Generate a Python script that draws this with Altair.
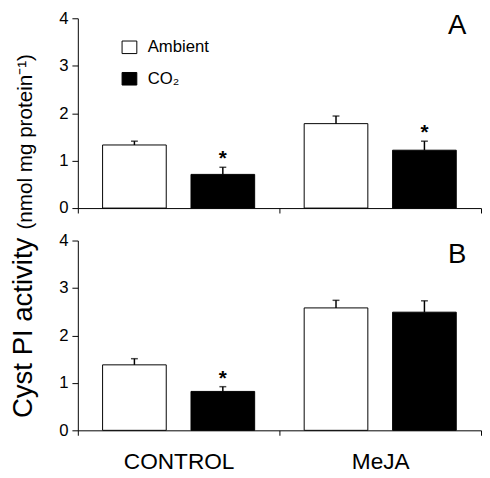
import altair as alt
import pandas as pd

groups = ["CONTROL", "MeJA"]
treatments = ["Ambient", "CO₂"]

# order: CONTROL-Ambient, CONTROL-CO2, MeJA-Ambient, MeJA-CO2
a_values = [1.33, 0.71, 1.78, 1.22]
a_errors = [0.08, 0.15, 0.16, 0.19]
a_signif = [False, True, False, True]

b_values = [1.38, 0.82, 2.58, 2.49]
b_errors = [0.13, 0.10, 0.16, 0.24]
b_signif = [False, True, False, False]

panel_letters = ["A", "B"]
y_ticks = [0, 1, 2, 3, 4]
FONT = "Liberation Sans"


def make_df(values, errors, signif):
    rows = []
    i = 0
    for g in groups:
        for t in treatments:
            rows.append({"group": g, "treat": t, "value": values[i],
                         "upper": values[i] + errors[i],
                         "sig": "*" if signif[i] else ""})
            i += 1
    return pd.DataFrame(rows)


W, H = 410, 193


def panel(df, letter, letter_y, show_x_labels, y_title, title_font_size,
          title_y, show_legend):
    base = alt.Chart(df)
    x = alt.X("group:N", sort=groups,
              scale=alt.Scale(paddingInner=0, paddingOuter=0),
              axis=alt.Axis(title=None, labels=show_x_labels, tickBand="extent",
                            tickSize=5, labelAngle=0, labelFontSize=23,
                            labelPadding=16, labelFont=FONT, labelColor="black",
                            domainColor="black", tickColor="black"))
    xo = alt.XOffset("treat:N", sort=treatments,
                     scale=alt.Scale(paddingInner=0.28, paddingOuter=0.28))
    yaxis = alt.Axis(values=y_ticks, title=y_title, titleFontSize=title_font_size,
                     titleFont=FONT, titleFontWeight="normal", titleColor="black",
                     titleAngle=270, titleAlign="left", titleBaseline="alphabetic",
                     titleX=-47, titleY=title_y,
                     labelFontSize=17, labelFont=FONT, labelColor="black",
                     labelPadding=4, tickSize=6, domainColor="black",
                     tickColor="black", grid=False)
    yscale = alt.Scale(domain=[0, 4])
    fill = alt.Fill("treat:N", sort=treatments,
                    scale=alt.Scale(domain=treatments, range=["white", "black"]),
                    legend=(alt.Legend(orient="none", legendX=44, legendY=21,
                                       title=None,
                                       symbolType="M-1,-0.85H1V0.85H-1Z",
                                       symbolSize=225, symbolStrokeColor="black",
                                       symbolStrokeWidth=1, symbolOpacity=1,
                                       labelFontSize=17, labelFont=FONT,
                                       labelColor="black", rowPadding=14,
                                       labelOffset=10)
                            if show_legend else None))
    bars = base.mark_bar(stroke="black", strokeWidth=1).encode(
        x=x, xOffset=xo,
        y=alt.Y("value:Q", scale=yscale, axis=yaxis), fill=fill)
    err = base.mark_rule(color="black", strokeWidth=1.5).encode(
        x=x, xOffset=xo,
        y=alt.Y("value:Q", scale=yscale, axis=yaxis), y2="upper:Q")
    cap = base.mark_tick(color="black", size=7, thickness=1.5).encode(
        x=x, xOffset=xo, y=alt.Y("upper:Q", scale=yscale, axis=yaxis))
    star = base.transform_filter("datum.sig != ''").mark_text(
        text="*", fontSize=21, fontWeight="bold", font=FONT,
        baseline="alphabetic", dy=-2, color="black").encode(
        x=x, xOffset=xo, y=alt.Y("upper:Q", scale=yscale, axis=yaxis))
    label = alt.Chart(pd.DataFrame({"letter": [letter]})).mark_text(
        fontSize=28, font=FONT, color="black", align="right",
        baseline="alphabetic").encode(
        text="letter:N", x=alt.value(W - 15), y=alt.value(letter_y))
    return alt.layer(bars, err, cap, star, label).properties(width=W, height=H)


top = panel(make_df(a_values, a_errors, a_signif), panel_letters[0], 16, False,
            "(nmol mg protein⁻¹)", 21, 214.4, True)
bottom = panel(make_df(b_values, b_errors, b_signif), panel_letters[1], 22.4, True,
               "Cyst PI activity", 28, 180, False)

chart = alt.vconcat(top, bottom, spacing=33, bounds="flush").resolve_legend(
    fill="independent").properties(
    padding={"left": 1, "top": -2.5, "right": 0, "bottom": 0}
).configure_view(stroke=None)

chart.save("out.html", embed_options={"renderer": "svg", "actions": False})
